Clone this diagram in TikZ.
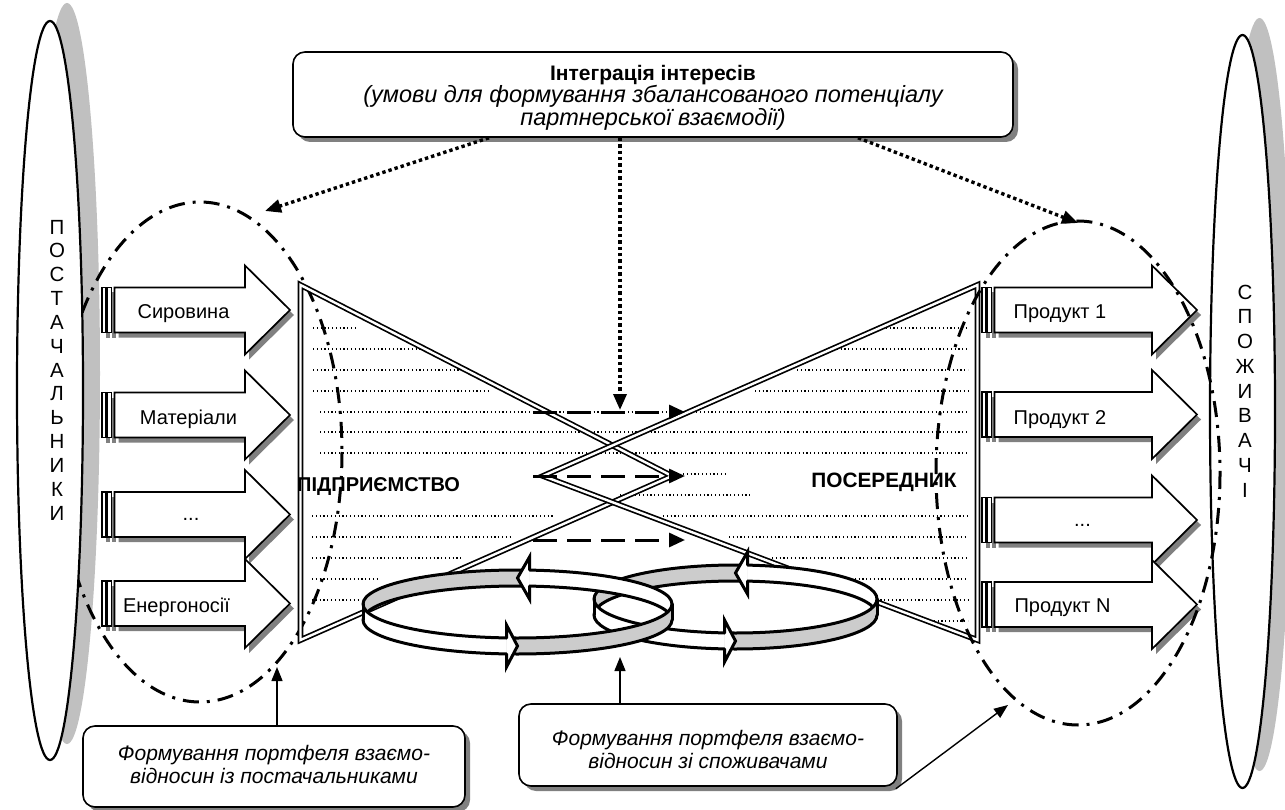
\documentclass[tikz,border=0pt]{standalone}
\usepackage{fontspec}
\setmainfont{Liberation Sans}
\usetikzlibrary{arrows.meta,shadows,calc}
\definecolor{shgray}{RGB}{128,128,128}
\definecolor{elgray}{RGB}{192,192,192}
\definecolor{rgray}{RGB}{204,204,204}
\newcommand\arrfont{\fontsize{20}{24}\selectfont}
\newcommand\bxfont{\fontsize{21}{23}\selectfont\itshape}
\tikzset{
 boxsty/.style={draw, line width=1.6pt, rounded corners=12pt, fill=white,
   drop shadow={shadow xshift=5pt, shadow yshift=-5pt, fill=shgray, opacity=1}, inner sep=0pt},
 arrsty/.style={draw, line width=1.7pt, fill=white, line join=miter,
   drop shadow={shadow xshift=4pt, shadow yshift=-5pt, fill=shgray, opacity=1}},
 arrtext/.style={font=\arrfont, inner sep=0pt, anchor=base},
 finedot/.style={line width=1.2pt, dash pattern=on 1.2pt off 2.6pt},
 dotarrow/.style={line width=3.4pt, dash pattern=on 3.4pt off 3pt, -{Triangle[length=16pt,width=13pt]}},
 dasharrow/.style={line width=3pt, dash pattern=on 24pt off 10pt, -{Triangle[length=16pt,width=14pt]}},
 dashdot/.style={line width=3pt, dash pattern=on 16pt off 8pt on 3pt off 8pt},
 thinarrow/.style={line width=1.4pt, -{Triangle[length=14pt,width=11pt]}},
 tri/.style={draw, line width=1.7pt, double=white, double distance=2.4pt, line join=miter},
 ringline/.style={line width=3pt, line cap=round},
 bigell/.style={draw, line width=2.2pt, fill=white},
 vtext/.style={align=center, inner sep=0pt},
 btext/.style={align=center, inner sep=0pt, font=\bxfont},
}
% striped block arrow: #1 tail x, #2 head start x, #3 tip x, #4 centre y
\newcommand\sarr[4]{%
 \filldraw[arrsty] (#1,#4-22.5) rectangle (#1+4,#4+22.5);
 \filldraw[arrsty] (#1+5.5,#4-22.5) rectangle (#1+9.5,#4+22.5);
 \filldraw[arrsty] (#1+12.5,#4-22.5) -- (#2,#4-22.5) -- (#2,#4-44.5) -- (#3,#4)
   -- (#2,#4+44.5) -- (#2,#4+22.5) -- (#1+12.5,#4+22.5) -- cycle;}
% ring band: #1 cx, #2 cy (top rim), #3 rx, #4 ry, #5 height
\newcommand\ringpic[5]{%
 \begin{scope}[shift={(#1,#2)}]
 \pgfmathsetmacro\rT{270+asin(12/#3)}
 \pgfmathsetmacro\rB{90+asin(11/#3)}
 \pgfmathsetmacro\yct{-#4+#5/2}
 \pgfmathsetmacro\ycb{#4+#5/2}
 \fill[rgray] (-#3,0) arc[start angle=180,end angle=\rT,x radius=#3,y radius=#4]
   -- ++(0,#5) arc[start angle=\rT,end angle=180,x radius=#3,y radius=#4] -- cycle;
 \fill[white] (\rT:#3 and #4) arc[start angle=\rT,end angle=360,x radius=#3,y radius=#4]
   -- ++(0,#5) arc[start angle=360,end angle=\rT,x radius=#3,y radius=#4] -- cycle;
 \draw[ringline] (-#3,0) arc[start angle=180,end angle=360,x radius=#3,y radius=#4];
 \draw[ringline] (-#3,#5) arc[start angle=180,end angle=360,x radius=#3,y radius=#4];
 \fill[white] (12,\yct-21) -- (0,\yct) -- (12,\yct+21) -- cycle;
 \draw[ringline,line join=miter] (12,\yct-#5/2) -- (12,\yct-21) -- (0,\yct) -- (12,\yct+21) -- (12,\yct+#5/2);
 \fill[white] (-#3,0) arc[start angle=180,end angle=\rB,x radius=#3,y radius=#4]
   -- ++(0,#5) arc[start angle=\rB,end angle=180,x radius=#3,y radius=#4] -- cycle;
 \fill[rgray] (\rB:#3 and #4) arc[start angle=\rB,end angle=0,x radius=#3,y radius=#4]
   -- ++(0,#5) arc[start angle=0,end angle=\rB,x radius=#3,y radius=#4] -- cycle;
 \draw[ringline] (-#3,0) arc[start angle=180,end angle=0,x radius=#3,y radius=#4];
 \draw[ringline] (-#3,#5) arc[start angle=180,end angle=0,x radius=#3,y radius=#4];
 \draw[ringline] (-#3,0) -- (-#3,#5);
 \draw[ringline] (#3,0) -- (#3,#5);
 \fill[white] (-11,\ycb-21) -- (0,\ycb) -- (-11,\ycb+21) -- cycle;
 \draw[ringline,line join=miter] (-11,\ycb-#5/2) -- (-11,\ycb-21) -- (0,\ycb) -- (-11,\ycb+21) -- (-11,\ycb+#5/2);
 \end{scope}}
\begin{document}
\begin{tikzpicture}[x=1pt,y=-1pt]
\useasboundingbox (0,0) rectangle (1285,810);
\fill[white] (0,0) rectangle (1285,810);

% shadows of the big ellipses
\fill[elgray] (67,373.5) ellipse[x radius=33, y radius=370.5];
\fill[elgray] (1259.5,394.5) ellipse[x radius=32.5, y radius=376.5];
% left dash-dot ellipse (behind the supplier ellipse)
\draw[dashdot] (200,452) ellipse[x radius=142, y radius=250];
% big ellipses
\filldraw[bigell] (50,390.5) ellipse[x radius=33, y radius=369.5];
\filldraw[bigell] (1242.5,411.5) ellipse[x radius=32.5, y radius=376.5];
\node[vtext, font=\fontsize{20.5}{23.83}\selectfont] (supp) at (57,370)
  {П\\О\\С\\Т\\А\\Ч\\А\\Л\\Ь\\Н\\И\\К\\И};
\node[vtext, font=\fontsize{20.5}{24.75}\selectfont] (cons) at (1245,391)
  {С\\П\\О\\Ж\\И\\В\\А\\Ч\\І};

% fine dotted hatching
\foreach \y/\xa/\xb in {328/313/357, 349/313/420, 370/313/462, 391/313/488,
  412/320/968, 432/320/968, 453/320/968, 474/683/728, 495/620/750,
  516/312/554, 537/312/511, 558/312/463, 579/312/378, 600/312/358,
  328/882/968, 349/833/968, 370/797/968, 391/755/968,
  516/663/968, 537/729/968, 558/772/968, 579/813/968, 600/869/968, 621/930/968}
  \draw[finedot] (\xa,\y) -- (\xb,\y);

% two triangles
\coordinate (L1) at (300.5,285); \coordinate (L2) at (300.5,640); \coordinate (LA) at (672,476);
\coordinate (R1) at (977.5,285); \coordinate (R2) at (977.5,640); \coordinate (RA) at (543,476);
\draw[tri] (L1) -- (LA) -- (L2) -- cycle;
\draw[tri] (R1) -- (RA) -- (R2) -- cycle;

% left striped arrows
\sarr{102}{245}{290}{310}
\sarr{102}{245}{290}{415}
\sarr{102}{245}{290}{514.5}
\sarr{102}{245}{290}{603.5}
\node[arrtext] (a1) at (183.5,319) {Сировина};
\node[arrtext] (a2) at (188.5,424) {Матеріали};
\node[arrtext] (a3) at (191,520.5) {...};
\node[arrtext] (a4) at (176.5,612) {Енергоносії};
% right striped arrows
\sarr{982}{1152}{1197}{310}
\sarr{982}{1152}{1197}{414.5}
\sarr{982}{1152}{1197}{520}
\sarr{982}{1152}{1197}{604.5}
\node[arrtext] (p1) at (1060,319) {Продукт 1};
\node[arrtext] (p2) at (1060,424) {Продукт 2};
\node[arrtext] (p3) at (1082.5,526) {...};
\node[arrtext] (p4) at (1062.5,612) {Продукт N};

% right dash-dot ellipse (over the arrows)
\draw[dashdot] (1078,473) ellipse[x radius=142, y radius=252];

% top box
\node[boxsty, minimum width=720pt, minimum height=85pt] (topbox) at (653,94.5) {};
\node[align=center, inner sep=0pt, font=\fontsize{23.5}{21.75}\selectfont\itshape] (toptext) at (653,98)
  {{\fontsize{21}{21.75}\selectfont\upshape\bfseries Інтеграція інтересів}\\(умови для формування збалансованого потенціалу\\партнерської взаємодії)};
\coordinate (xl) at (489,0); \coordinate (xm) at (620,0); \coordinate (xr) at (858,0);
\coordinate (tl) at (265,211); \coordinate (tm) at (620,410); \coordinate (tr) at (1078,223);
\draw[dotarrow] (topbox.south -| xl) -- (tl);
\draw[dotarrow] (topbox.south -| xm) -- (tm);
\draw[dotarrow] (topbox.south -| xr) -- (tr);

% dashed arrows in the middle
\coordinate (d1s) at (533,412); \coordinate (d1e) at (685,412);
\coordinate (d2s) at (533,476); \coordinate (d2e) at (685,476);
\coordinate (d3s) at (533,540); \coordinate (d3e) at (685,540);
\draw[dasharrow] (d1s) -- (d1e);
\draw[dasharrow] (d2s) -- (d2e);
\draw[dasharrow] (d3s) -- (d3e);

% rings
\ringpic{735.5}{599}{141.5}{34}{16}
\ringpic{517.5}{604}{154.5}{34}{16}

% labels of the triangles
\node[font=\bfseries\fontsize{20}{24}\selectfont, inner sep=0pt, anchor=west] (ent) at (297,487) {ПІДПРИЄМСТВО};
\node[font=\bfseries\fontsize{20.8}{24}\selectfont, inner sep=0pt] (mid) at (884,482) {ПОСЕРЕДНИК};

% bottom boxes
\node[boxsty, minimum width=382pt, minimum height=81pt] (lbox) at (274,766.5) {};
\node[btext] (ltext) at (274,764.5) {Формування портфеля взаємо-\\відносин із постачальниками};
\node[boxsty, minimum width=378pt, minimum height=82pt] (mbox) at (708,745) {};
\node[btext] (mtext) at (708,749) {Формування портфеля взаємо-\\відносин зі споживачами};
\coordinate (lt) at (277,667);
\coordinate (mt) at (620,657);
\coordinate (rt) at (1008,705);
\draw[thinarrow] (lbox.north -| lt) -- (lt);
\draw[thinarrow] (mbox.north -| mt) -- (mt);
\draw[thinarrow] ($(mbox.south east)+(-2,2)$) -- (rt);
\end{tikzpicture}
\end{document}
